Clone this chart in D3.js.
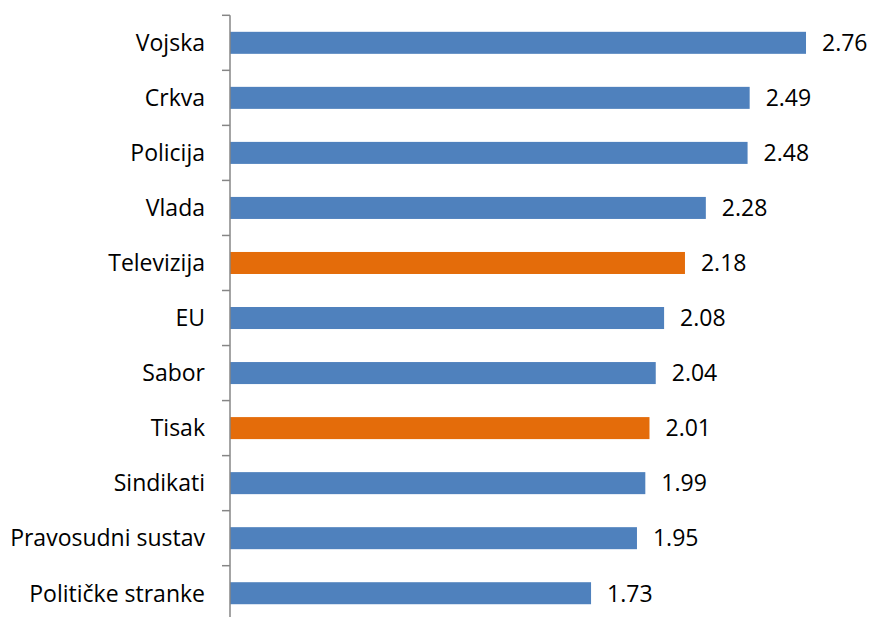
<!DOCTYPE html>
<html>
<head>
<meta charset="utf-8">
<script src="https://cdn.jsdelivr.net/npm/d3@7"></script>
<style>
  body { margin: 0; background: #fff; }
  text { font-family: "Open Sans", "Liberation Sans", sans-serif; fill: #000; }
</style>
</head>
<body>
<svg id="chart"></svg>
<script>
const categories = ['Vojska', 'Crkva', 'Policija', 'Vlada', 'Televizija', 'EU', 'Sabor', 'Tisak', 'Sindikati', 'Pravosudni sustav', 'Političke stranke'];
const values = [2.76, 2.49, 2.48, 2.28, 2.18, 2.08, 2.04, 2.01, 1.99, 1.95, 1.73];
const highlighted = ['Televizija', 'Tisak'];

const width = 871, height = 617;
const plotLeft = 230, plotTop = 15.3, step = 55.04;

const svg = d3.select('#chart')
  .attr('width', width)
  .attr('height', height);

const x = d3.scaleLinear()
  .domain([0, 1])
  .range([plotLeft, plotLeft + 208.7]);

const y = d3.scaleBand()
  .domain(categories)
  .range([plotTop, plotTop + step * categories.length])
  .paddingInner(0.6)
  .paddingOuter(0.3);

svg.selectAll('rect.bar')
  .data(categories)
  .join('rect')
  .attr('class', 'bar')
  .attr('x', x(0))
  .attr('y', function (d) { return y(d); })
  .attr('width', function (d, i) { return x(values[i]) - x(0); })
  .attr('height', y.bandwidth())
  .attr('fill', function (d) {
    return highlighted.indexOf(d) >= 0 ? '#E46C0A' : '#4F81BD';
  });

// value labels
svg.selectAll('text.val')
  .data(categories)
  .join('text')
  .attr('class', 'val')
  .attr('x', function (d, i) { return x(values[i]) + 16; })
  .attr('y', function (d) { return y(d) + y.bandwidth() / 2; })
  .attr('dy', '0.36em')
  .style('font-size', '23px')
  .text(function (d, i) { return values[i].toFixed(2); });

// category axis
const axis = svg.append('g')
  .attr('transform', 'translate(' + plotLeft + ',0)');

axis.append('line')
  .attr('x1', 0).attr('x2', 0)
  .attr('y1', plotTop).attr('y2', height)
  .attr('stroke', '#868686')
  .attr('stroke-width', 1.5);

const ticks = d3.range(categories.length).map(function (i) { return plotTop + i * step; });
axis.selectAll('line.tick')
  .data(ticks)
  .join('line')
  .attr('class', 'tick')
  .attr('x1', -8).attr('x2', 0)
  .attr('y1', function (d) { return d; })
  .attr('y2', function (d) { return d; })
  .attr('stroke', '#868686')
  .attr('stroke-width', 1.5);

svg.selectAll('text.cat')
  .data(categories)
  .join('text')
  .attr('class', 'cat')
  .attr('x', 205)
  .attr('y', function (d) { return y(d) + y.bandwidth() / 2; })
  .attr('dy', '0.36em')
  .attr('text-anchor', 'end')
  .style('font-size', '23px')
  .text(function (d) { return d; });
</script>
</body>
</html>
